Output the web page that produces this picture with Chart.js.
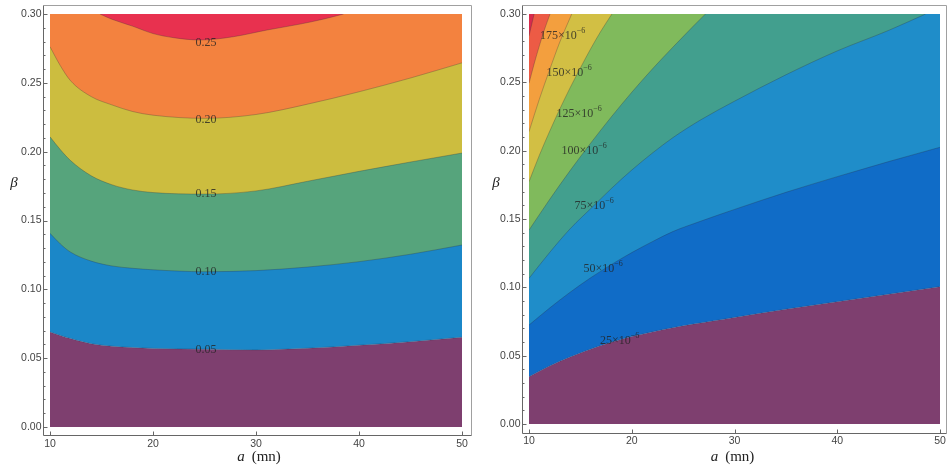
<!DOCTYPE html>
<html>
<head>
<meta charset="utf-8">
<script src="https://cdn.jsdelivr.net/npm/chart.js@4.4.1/dist/chart.umd.min.js"></script>
<style>
  html, body { margin: 0; padding: 0; background: #fff; }
  #wrap { display: flex; width: 947px; height: 471px; }
  canvas { display: block; }
</style>
</head>
<body>
<div id="wrap">
  <canvas id="leftChart" width="473" height="471"></canvas>
  <canvas id="rightChart" width="474" height="471"></canvas>
</div>
<script>
// axis ticks (both panels)
const aTicks = [10, 20, 30, 40, 50];
const betaTicks = [0, 0.05, 0.10, 0.15, 0.20, 0.25, 0.30];

const aGrid = [10, 11, 12, 14, 16, 18, 20, 25, 30, 35, 40, 45, 50];
const betaL005 = [0.0690, 0.0665, 0.0642, 0.0605, 0.0587, 0.0577, 0.0571, 0.0565, 0.0560, 0.0572, 0.0594, 0.0620, 0.0652];
const betaL010 = [0.1407, 0.1330, 0.1270, 0.1205, 0.1170, 0.1153, 0.1142, 0.1128, 0.1136, 0.1162, 0.1201, 0.1255, 0.1322];
const betaL015 = [0.2108, 0.2015, 0.1935, 0.1825, 0.1760, 0.1722, 0.1703, 0.1692, 0.1715, 0.1785, 0.1857, 0.1925, 0.1990];
const betaL020 = [0.2762, 0.2625, 0.2515, 0.2400, 0.2340, 0.2292, 0.2265, 0.2242, 0.2270, 0.2345, 0.2435, 0.2535, 0.2645];
const aL025 = [14.85, 16, 18, 20, 22, 24.6, 27.8, 31.1, 34.3, 36.5, 38.5];
const betaL025 = [0.300, 0.2962, 0.2912, 0.2858, 0.2828, 0.2811, 0.2835, 0.2884, 0.2927, 0.2962, 0.300];
const leftLevels = ['0.05', '0.10', '0.15', '0.20', '0.25'];
const leftLabelA = [25.15, 25.15, 25.15, 25.15, 25.15];
const leftLabelBeta = [0.0559, 0.1128, 0.1692, 0.2230, 0.2793];

// right panel: contour lines (values x10^-6)
const aR025 = [10, 12, 14, 17, 20, 24, 28, 30, 35, 40, 45, 50];
const betaR025 = [0.0346, 0.0425, 0.0490, 0.0575, 0.0640, 0.0705, 0.0755, 0.0780, 0.0840, 0.0895, 0.0950, 0.1005];
const aR050 = [10, 12, 14, 16, 18, 20, 22, 24, 26.68, 30, 35, 40, 45, 50];
const betaR050 = [0.0724, 0.0848, 0.0964, 0.1070, 0.1166, 0.1254, 0.1334, 0.1408, 0.1483, 0.1570, 0.1695, 0.1810, 0.1920, 0.2025];
const aR075 = [10, 12, 14, 16.34, 18, 20, 22, 24, 26.68, 30, 35, 40, 45, 48.6];
const betaR075 = [0.1066, 0.1254, 0.1428, 0.1600, 0.1722, 0.1858, 0.1982, 0.2095, 0.2224, 0.2362, 0.2555, 0.2730, 0.2880, 0.300];
const aR100 = [10, 12, 14, 16, 18, 20, 22, 24, 26, 27.17];
const betaR100 = [0.1419, 0.1642, 0.1854, 0.2055, 0.2246, 0.2427, 0.2597, 0.2757, 0.2912, 0.300];
const aR125 = [10, 11, 12, 13, 14, 15, 16, 17, 18.07];
const betaR125 = [0.1773, 0.1965, 0.2140, 0.2305, 0.2460, 0.2605, 0.2745, 0.2875, 0.300];
const aR150 = [10, 11, 12, 13, 14.16];
const betaR150 = [0.2139, 0.2375, 0.2590, 0.2795, 0.300];
const aR175 = [10, 10.5, 11, 11.5, 12.05];
const betaR175 = [0.2493, 0.2635, 0.2765, 0.2885, 0.300];
const aR200 = [10, 10.25, 10.5];
const betaR200 = [0.284, 0.292, 0.300];
const rightLevels = ['25', '50', '75', '100', '125', '150', '175'];
const rightLabelA = [18.82, 17.22, 16.34, 15.37, 14.88, 13.90, 13.27];
const rightLabelBeta = [0.0608, 0.1132, 0.1597, 0.2000, 0.2266, 0.2570, 0.2841];

const leftColors = ['#7e3f6f', '#1b87c8', '#56a47c', '#ccbd3f', '#f3823f', '#e8314f'];
const rightColors = ['#7e3f6f', '#106cc7', '#1f8dc9', '#429f8e', '#80ba5c', '#d2bf44', '#f39f3e', '#ec5b45', '#d82b4d'];
const lineColor = 'rgba(40,40,60,0.35)';

Chart.defaults.font.family = '"Liberation Sans", Arial, sans-serif';
Chart.defaults.font.size = 10.5;

function contour(aVals, bVals, color, fill, stroke) {
    return {
        data: aVals.map((a, i) => ({x: a, y: bVals[i]})),
        fill: fill,
        backgroundColor: color,
        borderColor: stroke ? lineColor : 'rgba(0,0,0,0)',
        borderWidth: stroke ? 0.8 : 0,
    };
}

function bands(lines, colors) {
    // base colour below the lowest contour, then each band above its contour
    let ds = [contour(lines[0][0], lines[0][1], colors[0], 'start', false)];
    lines.forEach(([a, b], i) => ds.push(contour(a, b, colors[i + 1], 'end', true)));
    ds.forEach((d, i) => d.order = ds.length - i);
    return ds;
}

function decorPlugin(geo, labels) {
    return {
        id: 'decor',
        afterDatasetsDraw(chart) {
            const {ctx, chartArea: ca, scales: {x, y}} = chart;
            const L = Math.round(ca.left - geo.frame[0]) + 0.5;
            const T = Math.round(ca.top - geo.frame[1]) + 0.5;
            const R = Math.round(ca.right + geo.frame[2]) + 0.5;
            const B = Math.round(ca.bottom + geo.frame[3]) + 0.5;
            ctx.save();
            ctx.lineWidth = 1;
            ctx.strokeStyle = '#a0a0a0';
            ctx.beginPath();
            ctx.moveTo(L, T); ctx.lineTo(R, T); ctx.lineTo(R, B);
            ctx.stroke();
            ctx.strokeStyle = '#666';
            ctx.beginPath();
            ctx.moveTo(L, T); ctx.lineTo(L, B); ctx.lineTo(R, B);
            ctx.stroke();

            // inward ticks
            ctx.beginPath();
            for (let k = 0; k <= 30; k++) {
                const py = Math.round(y.getPixelForValue(k / 100)) + 0.5;
                ctx.moveTo(L, py);
                ctx.lineTo(L + (k % 5 === 0 ? 4 : 2), py);
            }
            aTicks.forEach(v => {
                const px = Math.round(x.getPixelForValue(v)) + 0.5;
                ctx.moveTo(px, B);
                ctx.lineTo(px, B - 4);
            });
            ctx.stroke();

            // contour labels
            ctx.fillStyle = 'rgba(35,35,35,0.8)';
            ctx.textBaseline = 'middle';
            labels.forEach(lb => {
                const cx = x.getPixelForValue(lb.a);
                const cy = y.getPixelForValue(lb.b);
                ctx.font = '12px "Liberation Serif", "Times New Roman", serif';
                if (!lb.sup) {
                    ctx.textAlign = 'center';
                    ctx.fillText(lb.text, cx, cy);
                    return;
                }
                const main = lb.text + '\u00d710';
                const wm = ctx.measureText(main).width;
                ctx.font = '8px "Liberation Serif", "Times New Roman", serif';
                const ws = ctx.measureText(lb.sup).width;
                const x0 = cx - (wm + ws) / 2;
                ctx.textAlign = 'left';
                ctx.fillText(lb.sup, x0 + wm, cy - 5);
                ctx.font = '12px "Liberation Serif", "Times New Roman", serif';
                ctx.fillText(main, x0, cy);
            });

            // axis titles
            ctx.fillStyle = '#222';
            ctx.font = 'italic 15px "Liberation Serif", "Times New Roman", serif';
            ctx.textAlign = 'center';
            ctx.fillText('\u03b2', ca.left - geo.betaOffset, 183);
            const wa = ctx.measureText('a').width;
            ctx.font = '15px "Liberation Serif", "Times New Roman", serif';
            const wu = ctx.measureText('(mn)').width;
            const gap = 7;
            const tx = (ca.left + ca.right) / 2 + geo.titleShift - (wa + gap + wu) / 2;
            ctx.textAlign = 'left';
            ctx.fillText('(mn)', tx + wa + gap, 457);
            ctx.font = 'italic 15px "Liberation Serif", "Times New Roman", serif';
            ctx.fillText('a', tx, 457);
            ctx.restore();
        }
    };
}

// invisible tick marks only reserve the gap between plot and tick labels
const hiddenTicks = len => ({display: true, drawOnChartArea: false, drawTicks: true, tickLength: len, tickColor: 'rgba(0,0,0,0)'});

function makeChart(id, datasets, geo, labels) {
    return new Chart(document.getElementById(id), {
        type: 'line',
        data: {datasets: datasets},
        options: {
            responsive: false,
            animation: false,
            events: [],
            layout: {padding: {top: 14, right: geo.padRight, left: 0, bottom: 0}},
            elements: {
                point: {radius: 0},
                line: {cubicInterpolationMode: 'monotone'},
            },
            plugins: {legend: {display: false}, tooltip: {enabled: false}},
            scales: {
                x: {
                    type: 'linear', min: 10, max: 50,
                    afterBuildTicks: s => { s.ticks = aTicks.map(v => ({value: v})); },
                    afterFit: s => { s.height = geo.xHeight; },
                    grid: hiddenTicks(11),
                    border: {display: false},
                    ticks: {padding: 0, color: '#444', autoSkip: false, maxRotation: 0, callback: v => String(v)},
                },
                y: {
                    type: 'linear', min: 0, max: 0.30,
                    afterBuildTicks: s => { s.ticks = betaTicks.map(v => ({value: v})); },
                    afterFit: s => { s.width = geo.yWidth; },
                    grid: hiddenTicks(8.5),
                    border: {display: false},
                    ticks: {padding: 0, color: '#444', autoSkip: false, callback: v => v.toFixed(2)},
                },
            },
        },
        plugins: [decorPlugin(geo, labels)],
    });
}

const leftLines = [[aGrid, betaL005], [aGrid, betaL010], [aGrid, betaL015], [aGrid, betaL020], [aL025, betaL025]];
const rightLines = [[aR025, betaR025], [aR050, betaR050], [aR075, betaR075], [aR100, betaR100],
    [aR125, betaR125], [aR150, betaR150], [aR175, betaR175], [aR200, betaR200]];

makeChart('leftChart', bands(leftLines, leftColors),
    {padRight: 11, xHeight: 44, yWidth: 50, frame: [7, 9, 9, 8], betaOffset: 36, titleShift: 3},
    leftLevels.map((t, i) => ({text: t, a: leftLabelA[i], b: leftLabelBeta[i]})));

makeChart('rightChart', bands(rightLines, rightColors),
    {padRight: 7, xHeight: 47, yWidth: 56, frame: [7, 9, 6, 9], betaOffset: 33, titleShift: -2},
    rightLevels.map((t, i) => ({text: t, sup: '\u22126', a: rightLabelA[i], b: rightLabelBeta[i]})));
</script>
</body>
</html>
